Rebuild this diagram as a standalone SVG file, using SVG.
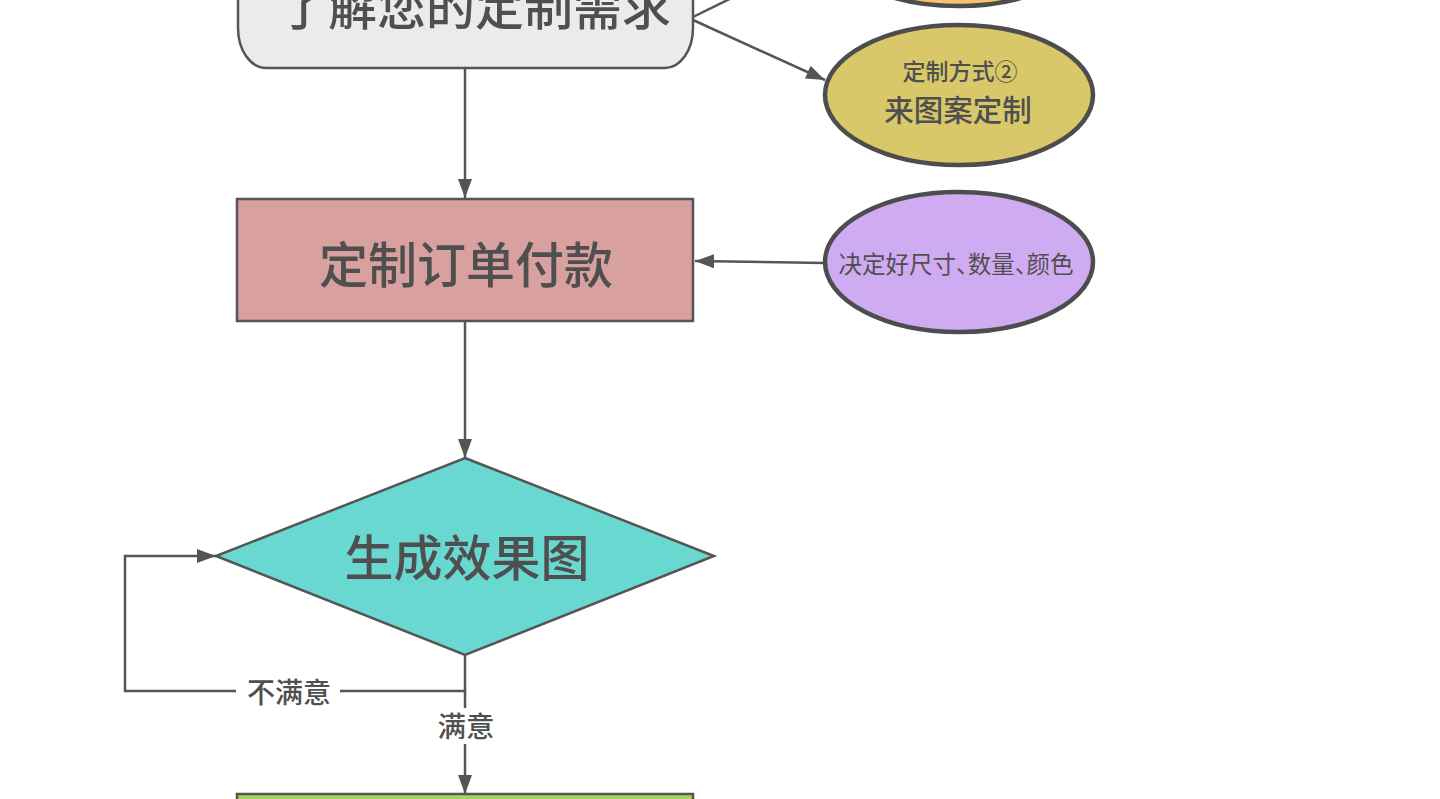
<svg xmlns="http://www.w3.org/2000/svg" width="1440" height="799" viewBox="0 0 1440 799">
<style>
.ln{fill:none;stroke:#555555;stroke-width:2.5}
.sh{stroke:#555555;stroke-width:2.5}
.el{stroke:#4d4d4d;stroke-width:4.5}
text{font-family:"Noto Sans CJK SC","Noto Sans",sans-serif;fill:#4f4f4f;text-anchor:middle;dominant-baseline:central}
.big{font-size:49px;font-weight:500}
</style>
<defs>
<marker id="ah" markerUnits="userSpaceOnUse" markerWidth="20" markerHeight="16" refX="19" refY="7" orient="auto">
<path d="M0,0 L19,7 L0,14 z" fill="#555555"/>
</marker>
</defs>
<rect width="1440" height="799" fill="#ffffff"/>
<g id="connectors">
<line class="ln" x1="693" y1="17" x2="760" y2="-16" marker-end="url(#ah)"/>
<line class="ln" x1="693" y1="20" x2="825" y2="80" marker-end="url(#ah)"/>
<line class="ln" x1="465" y1="68" x2="465" y2="198" marker-end="url(#ah)"/>
<line class="ln" x1="825" y1="263" x2="695" y2="261" marker-end="url(#ah)"/>
<line class="ln" x1="465" y1="321" x2="465" y2="458" marker-end="url(#ah)"/>
<polyline class="ln" points="465,655 465,691 125,691 125,556 216,556" marker-end="url(#ah)"/>
<line class="ln" x1="465" y1="691" x2="465" y2="794" marker-end="url(#ah)"/>
<rect x="236" y="676" width="104" height="30" fill="#ffffff"/>
<text x="289" y="691" style="font-size:28px;font-weight:500">不满意</text>
<rect x="430" y="708" width="70" height="36" fill="#ffffff"/>
<text x="466" y="724" style="font-size:28.5px;font-weight:500">满意</text>
</g>
<g id="node-orange">
<ellipse class="el" cx="958" cy="-64" rx="134" ry="70" fill="#f6c26b"/>
</g>
<g id="node-need">
<rect class="sh" x="238" y="-60" width="455" height="128" rx="28" ry="40" fill="#ebebeb"/>
<text class="big" x="475" y="3">了解您的定制需求</text>
</g>
<g id="node-yellow">
<ellipse class="el" cx="959" cy="95" rx="134" ry="70" fill="#d8c86a"/>
<text x="960" y="69.5" style="font-size:23px;font-weight:500">定制方式②</text>
<text x="958" y="107.5" style="font-size:29.5px;font-weight:500">来图案定制</text>
</g>
<g id="node-pay">
<rect class="sh" x="237" y="199" width="456" height="122" fill="#d9a0a0"/>
<text class="big" x="466" y="261">定制订单付款</text>
</g>
<g id="node-purple">
<ellipse class="el" cx="959" cy="262" rx="134" ry="70" fill="#cfabf2"/>
<text x="956" y="262.5" style="font-size:23.5px;font-feature-settings:'halt'">决定好尺寸、数量、颜色</text>
</g>
<g id="node-render">
<polygon class="sh" points="465,458 714,556 465,655 216,556" fill="#68d8d0"/>
<text class="big" x="467" y="554">生成效果图</text>
</g>
<g id="node-green">
<rect class="sh" x="237" y="794" width="456" height="40" fill="#a4d65e"/>
</g>
</svg>
